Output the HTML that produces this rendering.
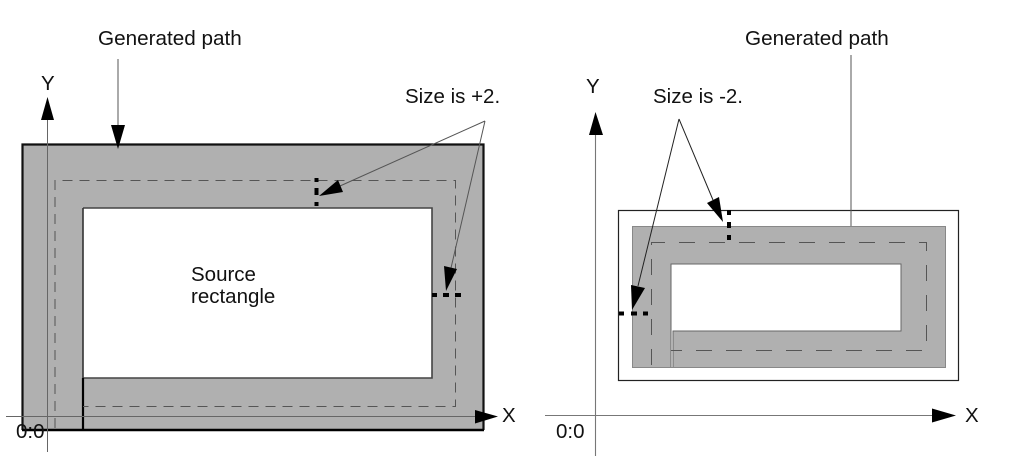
<!DOCTYPE html>
<html>
<head>
<meta charset="utf-8">
<style>
html,body{margin:0;padding:0;background:#fff;width:1013px;height:456px;overflow:hidden}
svg{display:block;filter:blur(0.3px)}
text{font-family:"Liberation Sans",sans-serif;font-size:20.5px;fill:#111}
</style>
</head>
<body>
<svg width="1013" height="456" viewBox="0 0 1013 456" xmlns="http://www.w3.org/2000/svg">
  <!-- Left diagram -->
  <rect x="22.5" y="144.5" width="461" height="285.5" fill="#b0b0b0"/>
  <rect x="83" y="208" width="349" height="170" fill="#fff"/>
  <path d="M83 208H432V378H83" fill="none" stroke="#444" stroke-width="1.6"/>
  <path d="M83 208V378" fill="none" stroke="#333" stroke-width="1.6"/>
  <path d="M83 378V430" stroke="#000" stroke-width="2.2"/>
  <path d="M22.5 430V144.5H483.5V430" fill="none" stroke="#111" stroke-width="2.2"/>
  <path d="M22 430H484" stroke="#000" stroke-width="2.6"/>
  <path d="M55 428V180.500H455.500V406.500H83" fill="none" stroke="#555" stroke-width="1" stroke-dasharray="10 7"/>
  <path d="M47.500 452V118M6 416.500H478" fill="none" stroke="#666" stroke-width="1"/>
  <polygon points="47.500,97 41,120 54,120" fill="#000"/>
  <polygon points="498,416.500 475,410 475,423.500" fill="#000"/>
  <path d="M118 59V126" stroke="#555" stroke-width="1"/>
  <polygon points="118,149 111,125 125,125" fill="#000"/>
  <path d="M485 121L340 186M485 121L451 268" fill="none" stroke="#555" stroke-width="1"/>
  <polygon points="319,196 338,180 343,192" fill="#000"/>
  <polygon points="446,291 444,266 457,269" fill="#000"/>
  <path d="M316.500 178V182M316.500 188V195M316.500 202V206" stroke="#000" stroke-width="4"/>
  <path d="M432 295H437M443 295H449M455 295H461" stroke="#000" stroke-width="4"/>
  <text x="98" y="45" style="font-size:20.700px">Generated path</text>
  <text x="41" y="90">Y</text>
  <text x="502" y="422">X</text>
  <text x="405" y="103">Size is +2.</text>
  <text x="191" y="281">Source</text>
  <text x="191" y="303">rectangle</text>
  <text x="16" y="438">0:0</text>

  <!-- Right diagram -->
  <rect x="618.500" y="210.500" width="340" height="170" fill="#fff" stroke="#222" stroke-width="1.2"/>
  <rect x="632" y="226" width="314" height="141.500" fill="#b0b0b0"/>
  <rect x="671" y="264" width="230" height="67" fill="#fff"/>
  <rect x="671" y="331" width="2" height="37" fill="#fff"/>
  <path d="M671 368V264H901V331H673V368" fill="none" stroke="#666" stroke-width="1"/>
  <path d="M632.500 226.500H945.500V367.500H632.500Z" fill="none" stroke="#888" stroke-width="1"/>
  <path d="M651.500 365V242.500H926.500V350.500H671" fill="none" stroke="#555" stroke-width="1" stroke-dasharray="16 14"/>
  <path d="M595.500 456V134M545 415.500H934" fill="none" stroke="#777" stroke-width="1.100"/>
  <polygon points="595.500,112 589,135 603,135" fill="#000"/>
  <polygon points="956,415.500 932,408.500 932,422.500" fill="#000"/>
  <path d="M851 55V226" stroke="#555" stroke-width="1"/>
  <path d="M679 119L713 200M679 119L638 286" fill="none" stroke="#222" stroke-width="1"/>
  <polygon points="723,222 707,203 719,197" fill="#000"/>
  <polygon points="632,310 631,285 645,288" fill="#000"/>
  <path d="M729 210V215M729 222V228M729 235V240" stroke="#000" stroke-width="4"/>
  <path d="M619 313.500H624M631 313.500H637M643 313.500H648" stroke="#000" stroke-width="4"/>
  <text x="745" y="45" style="font-size:20.700px">Generated path</text>
  <text x="586" y="93">Y</text>
  <text x="965" y="422">X</text>
  <text x="653" y="103">Size is -2.</text>
  <text x="556" y="438">0:0</text>
</svg>
</body>
</html>
